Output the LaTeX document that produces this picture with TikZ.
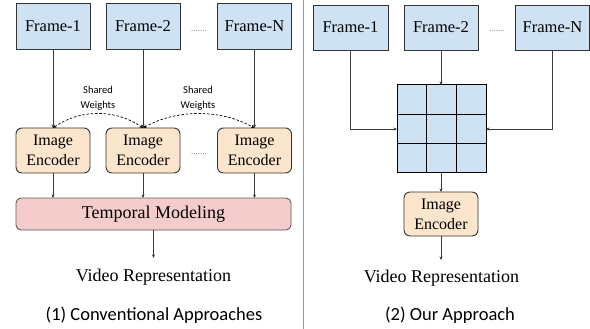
\documentclass[tikz,border=0pt]{standalone}
\usepackage{fontspec}
\setmainfont{LiberationSerif}[Extension=.ttf, UprightFont=*-Regular, BoldFont=*-Bold]
\newfontfamily\capfont{Carlito}
\usetikzlibrary{arrows.meta,calc}
\definecolor{framefill}{HTML}{CFE2F3}
\definecolor{encfill}{HTML}{FCE5CD}
\definecolor{tempfill}{HTML}{F4CCCC}
\definecolor{edgecol}{HTML}{333333}
\definecolor{linecol}{HTML}{3A3A3A}
\definecolor{dotcol}{HTML}{777777}
\begin{document}
\begin{tikzpicture}[x=1pt,y=-1pt,
  framebox/.style={draw=edgecol, line width=0.9pt, fill=framefill, minimum width=74pt, minimum height=46pt, inner sep=0pt, outer sep=0pt, font=\fontsize{16.5}{19}\selectfont},
  encbox/.style={draw=edgecol, line width=0.9pt, fill=encfill, rounded corners=6pt, minimum width=74pt, minimum height=45pt, inner sep=0pt, outer sep=0pt, align=center, font=\fontsize{16}{20}\selectfont},
  tempbox/.style={draw=edgecol!80, line width=0.9pt, fill=tempfill, rounded corners=5pt, minimum width=275pt, minimum height=32pt, inner sep=0pt, outer sep=0pt, font=\fontsize{18}{20}\selectfont},
  gridbox/.style={draw=black, line width=1pt, fill=framefill, minimum width=89pt, minimum height=88pt, inner sep=0pt, outer sep=0pt},
  conn/.style={draw=linecol, line width=0.8pt, -{Stealth[length=3.5pt,width=3pt]}},
  shared/.style={draw=black, line width=0.7pt, dash pattern=on 2.5pt off 1.8pt, {Stealth[length=3.5pt,width=3pt]}-{Stealth[length=3.5pt,width=3pt]}},
  sharedlbl/.style={align=center, font=\capfont\fontsize{10.5}{14.5}\selectfont},
  outlbl/.style={font=\fontsize{18}{20}\selectfont},
  caplbl/.style={font=\capfont\fontsize{18.5}{20}\selectfont},
  dotlbl/.style={anchor=base, text=dotcol, inner sep=0pt, font=\fontsize{9}{9}\selectfont}
]
\useasboundingbox (0,0) rectangle (590,329);

% divider
\draw[draw=gray!80, line width=1.5pt] (303.5,0) -- (303.5,329);

% ---------- left panel ----------
\node[framebox] (lf1) at (53,26.5) {Frame-1};
\node[framebox] (lf2) at (143,26.5) {Frame-2};
\node[framebox] (lfn) at (254.5,26.5) {Frame-N};
\node[dotlbl] (ld1) at (199,32) {.......};

\node[encbox] (le1) at (53,150.5) {Image\\Encoder};
\node[encbox] (le2) at (143,150.5) {Image\\Encoder};
\node[encbox] (len) at (254.5,150.5) {Image\\Encoder};
\node[dotlbl] (ld2) at (199,155) {.......};

\node[tempbox] (temp) at (153.5,214) {Temporal Modeling};

\draw[conn] (lf1.south) -- (le1.north);
\draw[conn] (lf2.south) -- (le2.north);
\draw[conn] (lfn.south) -- (len.north);

\draw[shared] (le1.north) .. controls +(27,-19) and +(-27,-19) .. (le2.north);
\draw[shared] (le2.north) .. controls +(34,-19) and +(-34,-19) .. (len.north);
\node[sharedlbl] (sw1) at (98,98.5) {Shared\\Weights};
\node[sharedlbl] (sw2) at (198,98.5) {Shared\\Weights};

\draw[conn] (le1.south) -- (le1.south |- temp.north);
\draw[conn] (le2.south) -- (le2.south |- temp.north);
\draw[conn] (len.south) -- (len.south |- temp.north);

\coordinate (lv) at (153.5,258);
\draw[conn] (temp.south) -- (lv);
\node[outlbl] (lrep) at (153.5,277) {Video Representation};
\node[caplbl] (lcap) at (154,315) {(1) Conventional Approaches};

% ---------- right panel ----------
\node[framebox, minimum height=45pt, minimum width=75pt] (rf1) at (350.5,27.5) {Frame-1};
\node[framebox, minimum height=45pt] (rf2) at (441,27.5) {Frame-2};
\node[framebox, minimum height=45pt] (rfn) at (552.5,27.5) {Frame-N};
\node[dotlbl] (rd1) at (497,32) {.......};

\node[gridbox] (grid) at (441.5,129) {};
\foreach \f in {1,2}{
  \draw[black, line width=1pt] ($(grid.north west)!\f/3!(grid.north east)$) -- ($(grid.south west)!\f/3!(grid.south east)$);
  \draw[black, line width=1pt] ($(grid.north west)!\f/3!(grid.south west)$) -- ($(grid.north east)!\f/3!(grid.south east)$);
}

\draw[conn] (rf1.south) |- (grid.west);
\draw[conn] (rf2.south) -- (rf2.south |- grid.north);
\draw[conn] (rfn.south) |- (grid.east);

\node[encbox, minimum height=44pt] (re) at (441,214) {Image\\Encoder};
\draw[conn] (grid.south -| re.north) -- (re.north);

\coordinate (rv) at (441,260);
\draw[conn] (re.south) -- (rv);
\node[outlbl] (rrep) at (441.5,278) {Video Representation};
\node[caplbl] (rcap) at (450,315) {(2) Our Approach};
\end{tikzpicture}
\end{document}
